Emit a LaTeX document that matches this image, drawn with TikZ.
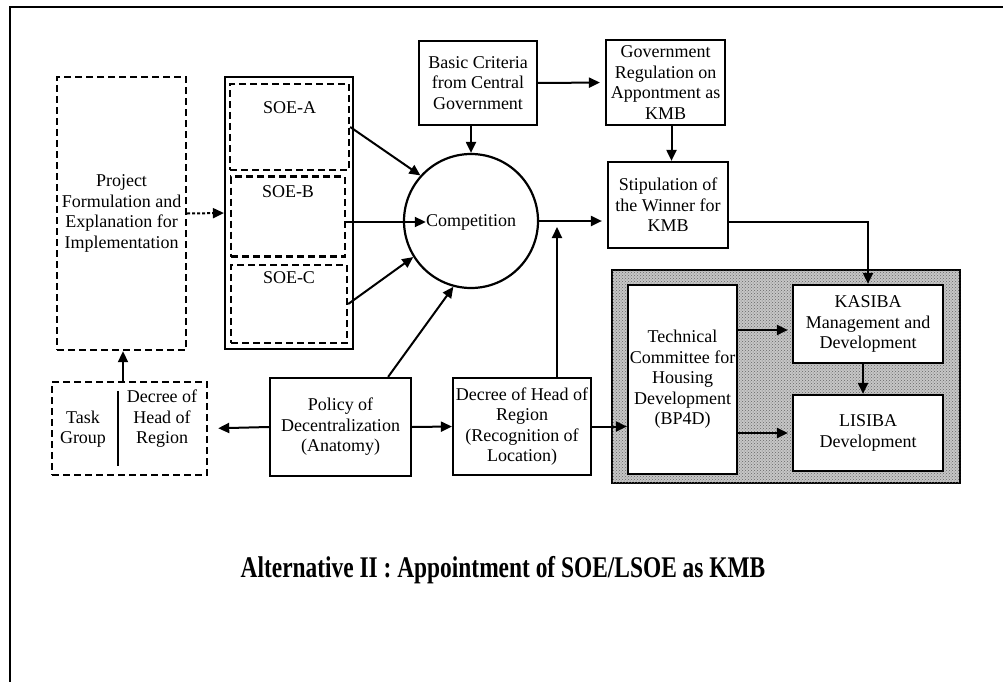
\documentclass[tikz,border=0pt]{standalone}
\usepackage{fontspec}
\setmainfont{Liberation Serif}
\newfontfamily\titlefont[FakeStretch=0.78]{Liberation Serif}
\usetikzlibrary{arrows.meta, positioning, patterns}

\begin{document}
\begin{tikzpicture}[x=1pt, y=-1pt,
    box/.style={rectangle, draw, line width=2.2pt, fill=white, align=center,
                inner sep=1pt, font=\fontsize{18}{20.5}\selectfont},
    dbox/.style={box, fill=none, line width=2.4pt, dash pattern=on 7pt off 4pt},
    txt/.style={align=center, inner sep=0pt, font=\fontsize{18}{20.5}\selectfont},
    hatched/.style={rectangle, draw, line width=2.2pt, fill=gray!45,
                    postaction={pattern=crosshatch dots, pattern color=black!60}},
    arr/.style={-{Triangle[length=11pt,width=10pt]}, line width=2pt},
    darr/.style={arr, dash pattern=on 3pt off 2pt}
]
\useasboundingbox (0,0) rectangle (1003,682);
\draw[line width=2.4pt] (1003,7) -- (10,7) -- (10,682);

\node[dbox, minimum width=129pt, minimum height=273pt] (proj) at (121.5,213.5)
    {Project\\Formulation and\\Explanation for\\Implementation};
\node[box, fill=none, minimum width=128pt, minimum height=272pt] (soe) at (289,213) {};
\node[dbox, minimum width=119pt, minimum height=86pt] (soea) at (289.5,127) {};
\node[dbox, minimum width=114pt, minimum height=80pt] (soeb) at (288,216.5) {};
\node[dbox, minimum width=116pt, minimum height=78pt] (soec) at (289,304) {};
\node[txt] (soeatxt) at (289.5,108) {SOE-A};
\node[txt] (soebtxt) at (288,192)   {SOE-B};
\node[txt] (soectxt) at (289,278)   {SOE-C};

\node[circle, draw, line width=2.2pt, minimum size=134pt] (comp) at (471,221) {};
\node[txt] (comptxt) at (471,222) {Competition};

\node[box, minimum width=118pt, minimum height=84pt] (basic) at (478,83)
    {Basic Criteria\\from Central\\Government};
\node[box, minimum width=119pt, minimum height=85pt] (gov) at (665.5,82.5)
    {Government\\Regulation on\\Appontment as\\KMB};
\node[box, minimum width=120pt, minimum height=86pt] (stip) at (668,205)
    {Stipulation of\\the Winner for\\KMB};

\node[hatched, minimum width=348pt, minimum height=213pt] (bp4d) at (786,376.5) {};
\node[box, minimum width=109pt, minimum height=189pt] (tech) at (682.5,379.5)
    {Technical\\Committee for\\Housing\\Development\\(BP4D)};
\node[box, minimum width=150pt, minimum height=78pt] (kasiba) at (868,324)
    {KASIBA\\Management and\\Development};
\node[box, minimum width=150pt, minimum height=76pt] (lisiba) at (868,433)
    {LISIBA\\Development};

\node[dbox, minimum width=155pt, minimum height=93pt] (task) at (129.5,428.5) {};
\node[txt] (tasktxt) at (83,429)  {Task\\Group};
\node[txt] (taskdec) at (162,419) {Decree of\\Head of\\Region};
\draw[line width=2.2pt] ([xshift=-11.5pt,yshift=-10pt]task.north)
    -- ([xshift=-11.5pt,yshift=10pt]task.south);

\node[box, minimum width=141pt, minimum height=98pt] (policy) at (340.5,427)
    {Policy of\\Decentralization\\(Anatomy)};
\node[box, minimum width=138pt, minimum height=97pt] (decree) at (522,426.5)
    {Decree of Head of\\Region\\(Recognition of\\Location)};

\node[font=\titlefont\bfseries\fontsize{30}{34}\selectfont] (title) at (503,570)
    {Alternative II : Appointment of SOE/LSOE as KMB};

\draw[darr] (proj.east) -- (soe.west);
\draw[arr] (soea.east) -- (comp.138);
\draw[arr] (soeb.east |- comptxt.west) -- (comptxt.west);
\draw[arr] (soec.east) -- (comp.212);
\draw[arr] (comp.north |- basic.south) -- (comp.north);
\draw[arr, shorten >=5pt] (basic.east) -- (gov.west);
\draw[arr] ([xshift=6pt]gov.south) -- ([xshift=6pt]gov.south |- stip.north);
\draw[arr, shorten >=5pt] (comp.east) -- (comp.east -| stip.west);
\draw[arr, shorten >=6pt] ([xshift=35pt]decree.north) -- ([xshift=35pt]decree.north |- comp.east);
\draw[arr] ([yshift=-17pt]stip.east) -| (kasiba.north);
\draw[arr, shorten >=4pt] ([yshift=-6pt]kasiba.west -| tech.east) -- ([yshift=-6pt]kasiba.west);
\draw[arr, shorten >=4pt] (lisiba.west -| tech.east) -- (lisiba.west);
\draw[arr] ([xshift=-5pt]kasiba.south) -- ([xshift=-5pt]lisiba.north);
\draw[arr, shorten >=10pt] (policy.west) -- (task.east);
\draw[arr] (policy.east) -- (decree.west);
\draw[arr] ([xshift=-24pt]policy.north east) -- (comp.255);
\draw[arr] (decree.east) -- (decree.east -| tech.west);
\draw[arr] ([xshift=-6.5pt]task.north) -- ([xshift=-6.5pt]task.north |- proj.south);
\end{tikzpicture}
\end{document}
